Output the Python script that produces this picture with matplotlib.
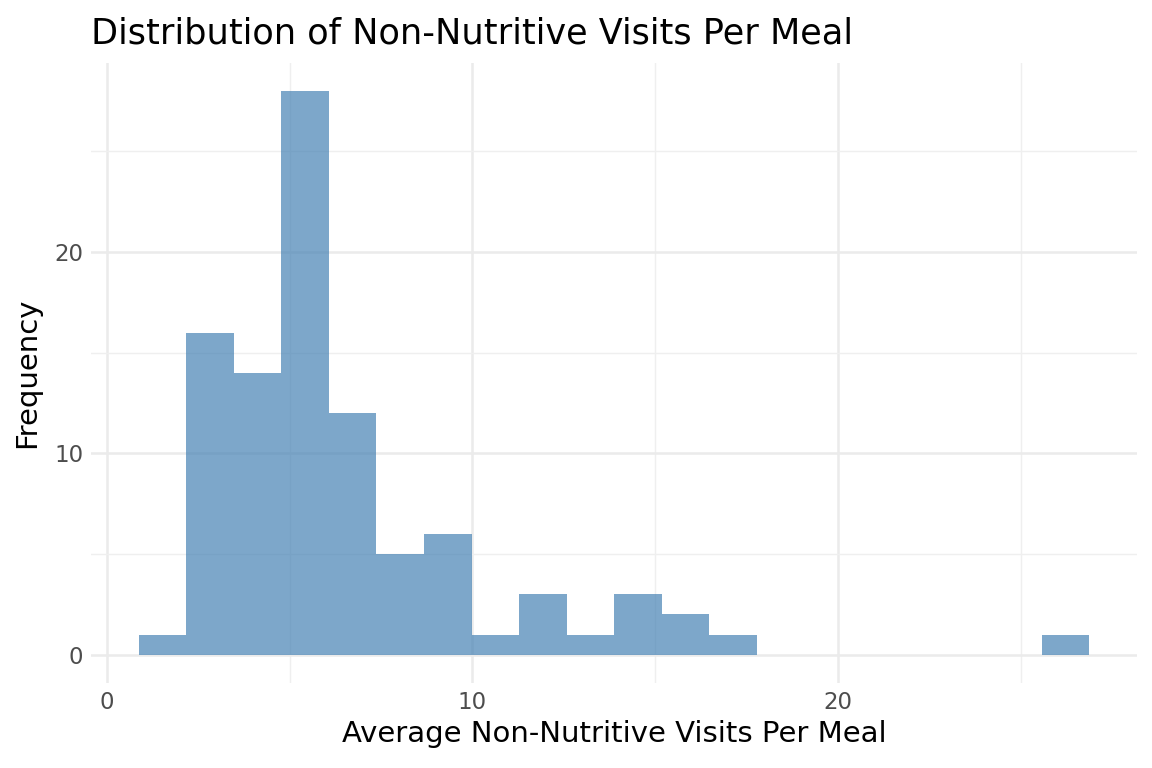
import numpy as np
import matplotlib.pyplot as plt
from matplotlib.ticker import MultipleLocator

# histogram counts per bin (20 bins)
counts = [1, 16, 14, 28, 12, 5, 6, 1, 3, 1, 3, 2, 1, 0, 0, 0, 0, 0, 0, 1]
first_edge = 0.875
bin_width = 1.3
edges = first_edge + bin_width * np.arange(len(counts) + 1)

fig = plt.figure(figsize=(11.52, 7.68), dpi=100)
ax = fig.add_axes([0.0794, 0.1107, 0.9072, 0.8078])

ax.stairs(counts, edges, fill=True, color="steelblue", alpha=0.7, linewidth=0)

ax.set_xlim(edges[0] - 0.05 * (edges[-1] - edges[0]), edges[-1] + 0.05 * (edges[-1] - edges[0]))
ax.set_ylim(-1.4, 29.4)

ax.xaxis.set_major_locator(MultipleLocator(10))
ax.xaxis.set_minor_locator(MultipleLocator(5))
ax.yaxis.set_major_locator(MultipleLocator(10))
ax.yaxis.set_minor_locator(MultipleLocator(5))
ax.grid(which="major", color="#ebebeb", linewidth=1.8)
ax.grid(which="minor", color="#efefef", linewidth=1.0)
ax.set_axisbelow(True)
for s in ax.spines.values():
    s.set_visible(False)
ax.tick_params(which="both", length=0, labelsize=16.5, labelcolor="#4d4d4d", pad=6)

ax.set_title("Distribution of Non-Nutritive Visits Per Meal", loc="left", fontsize=25.3, pad=14, x=0.0)
ax.set_xlabel("Average Non-Nutritive Visits Per Meal", fontsize=21, labelpad=4)
ax.set_ylabel("Frequency", fontsize=21, labelpad=9)

fig.savefig("out.png", dpi=100)
